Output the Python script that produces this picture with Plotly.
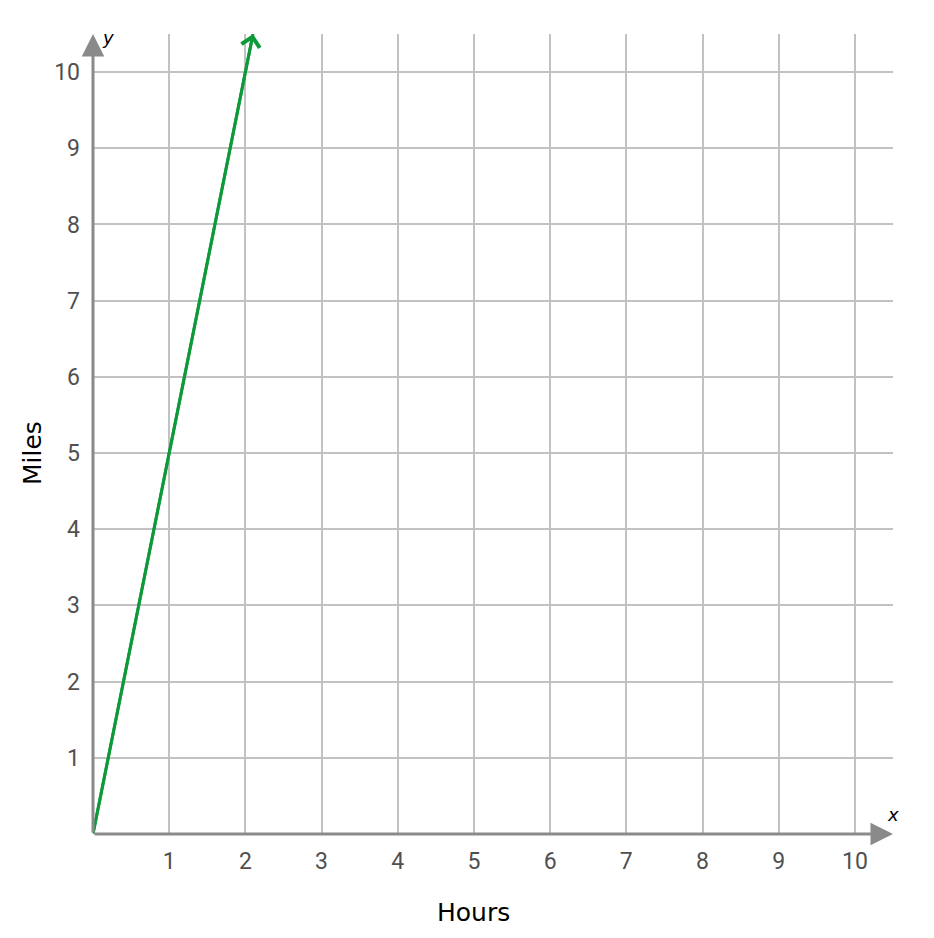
import plotly.graph_objects as go

# distance line (hours -> miles)
hours = [0, 2.1]
miles = [0, 10.5]

x_ticks = [1, 2, 3, 4, 5, 6, 7, 8, 9, 10]
y_ticks = [1, 2, 3, 4, 5, 6, 7, 8, 9, 10]
x_max = 10.5
y_max = 10.5

green = "#0e9a3a"
axis_gray = "#8a8a8a"
grid_gray = "#c2c2c2"
title_font = dict(family="DejaVu Sans", size=25, color="black")

fig = go.Figure()

fig.add_trace(go.Scatter(
    x=hours, y=miles, mode="lines",
    line=dict(color=green, width=3),
    hoverinfo="skip", showlegend=False,
))

annotations = [
    # arrow head on the line
    dict(x=hours[-1], y=miles[-1], ax=hours[-2], ay=miles[-2],
         xref="x", yref="y", axref="x", ayref="y", text="",
         showarrow=True, arrowhead=4, arrowsize=1.2, arrowwidth=3,
         arrowcolor=green),
    # axis arrows
    dict(x=x_max, y=0, ax=0, ay=0, xref="x", yref="y", axref="x", ayref="y",
         text="", showarrow=True, arrowhead=2, arrowsize=1.5, arrowwidth=3,
         arrowcolor=axis_gray),
    dict(x=0, y=y_max, ax=0, ay=0, xref="x", yref="y", axref="x", ayref="y",
         text="", showarrow=True, arrowhead=2, arrowsize=1.5, arrowwidth=3,
         arrowcolor=axis_gray),
    dict(x=0.2, y=y_max - 0.05, xref="x", yref="y", text="<i>y</i>",
         showarrow=False, font=dict(family="DejaVu Sans", size=18, color="black")),
    dict(x=x_max, y=0.25, xref="x", yref="y", text="<i>x</i>",
         showarrow=False, font=dict(family="DejaVu Sans", size=18, color="black")),
    # axis titles, centred on the 0-10 span like the original
    dict(x=x_ticks[-1] / 2, y=0, xref="x", yref="paper", text="Hours",
         showarrow=False, yanchor="middle", yshift=-78, font=title_font),
    dict(x=0, y=y_ticks[-1] / 2, xref="paper", yref="y", text="Miles",
         showarrow=False, textangle=-90, xanchor="center", xshift=-61,
         font=title_font),
]

# the page adds an 8px body margin, so the figure is a little smaller
fig.update_layout(
    width=926, height=930,
    margin=dict(l=85, r=41, t=26, b=104),
    plot_bgcolor="white", paper_bgcolor="white",
    showlegend=False,
    annotations=annotations,
)

fig.update_xaxes(
    range=[0, x_max], tickvals=x_ticks, ticktext=[str(v) for v in x_ticks],
    showgrid=True, gridcolor=grid_gray, gridwidth=1.5,
    zeroline=False, showline=False, ticks="", ticklabelstandoff=11,
    tickfont=dict(family="Roboto", size=23, color="#505050"),
    fixedrange=True,
)
fig.update_yaxes(
    range=[0, y_max], tickvals=y_ticks, ticktext=[str(v) for v in y_ticks],
    showgrid=True, gridcolor=grid_gray, gridwidth=1.5,
    zeroline=False, showline=False, ticks="", ticklabelstandoff=12,
    tickfont=dict(family="Roboto", size=23, color="#505050"),
    fixedrange=True,
)

fig.write_html("out.html")
